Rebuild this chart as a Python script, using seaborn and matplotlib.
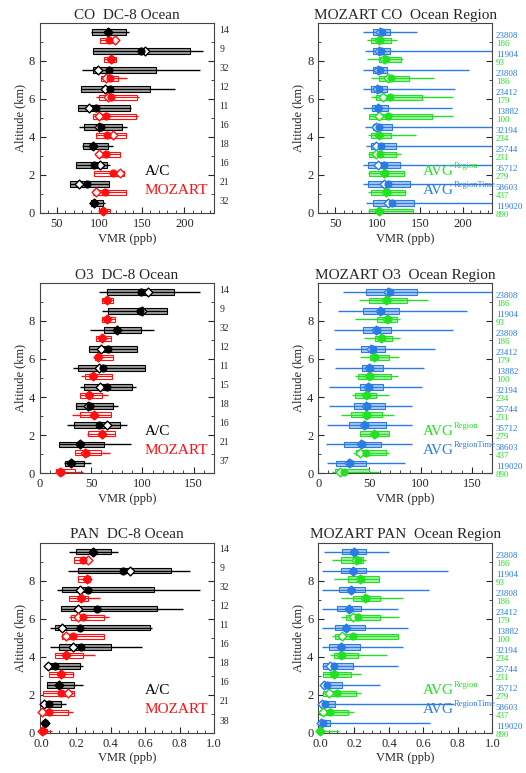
import numpy as np
import pandas as pd
import matplotlib
matplotlib.use('Agg')
import matplotlib.pyplot as plt
from matplotlib.ticker import MultipleLocator
import seaborn as sns

sns.set_style('ticks')
plt.rcParams['font.family'] = ['Liberation Serif', 'DejaVu Serif']

# altitude bins, top to bottom
bins = [9, 8, 7, 6, 5, 4, 3, 2, 1, 0]

# ---------- CO ----------
co_ac_lo = [90, 93, 80, 78, 75, 76, 80, 73, 65, 88]
co_ac_q1 = [91, 93, 93, 78, 75, 82, 81, 73, 65, 90]
co_ac_med = [110, 149, 111, 112, 96, 102, 93, 94, 85, 94]
co_ac_mean = [110, 154, 98, 107, 88, 100, 93, 101, 76, 94]
co_ac_q3 = [131, 207, 167, 160, 136, 127, 110, 109, 111, 104]
co_ac_hi = [135, 222, 218, 189, 137, 133, 116, 112, 111, 106]

co_mz_lo = [101, 105, 102, 96, 93, 96, 97, 94, 92, 100]
co_mz_q1 = [101, 105, 102, 99, 93, 96, 97, 94, 92, 100]
co_mz_med = [111, 114, 112, 114, 108, 109, 108, 116, 107, 104]
co_mz_mean = [118, 114, 108, 110, 100, 116, 100, 124, 96, 104]
co_mz_q3 = [120, 120, 122, 144, 143, 131, 124, 129, 131, 112]
co_mz_hi = [120, 120, 133, 147, 145, 131, 124, 129, 131, 112]

co_rt_lo = [83, 85, 83, 83, 83, 85, 86, 83, 83, 86]
co_rt_q1 = [94, 94, 94, 92, 93, 94, 92, 89, 89, 94]
co_rt_med = [105, 104, 103, 101, 100, 101, 104, 107, 112, 117]
co_rt_mean = [103, 102, 100, 99, 100, 98, 98, 100, 108, 112]
co_rt_q3 = [114, 114, 111, 111, 112, 117, 122, 126, 138, 143]
co_rt_hi = [146, 260, 207, 191, 188, 260, 260, 260, 260, 260]

co_rg_lo = [88, 88, 92, 92, 90, 89, 89, 89, 89, 89]
co_rg_q1 = [92, 101, 102, 98, 90, 92, 90, 90, 92, 90]
co_rg_med = [103, 110, 116, 114, 112, 101, 103, 109, 111, 101]
co_rg_mean = [101, 107, 112, 106, 102, 101, 98, 108, 110, 101]
co_rg_q3 = [116, 127, 137, 152, 164, 116, 121, 131, 132, 141]
co_rg_hi = [123, 130, 166, 189, 189, 145, 127, 132, 133, 141]

# ---------- O3 ----------
o3_ac_lo = [58, 61, 49, 48, 32, 39, 35, 26, 19, 23]
o3_ac_q1 = [65, 66, 63, 48, 37, 43, 35, 33, 19, 24]
o3_ac_med = [99, 98, 75, 66, 62, 65, 49, 58, 39, 30]
o3_ac_mean = [105, 100, 75, 60, 58, 59, 47, 65, 39, 30]
o3_ac_q3 = [131, 124, 99, 95, 103, 90, 71, 78, 63, 43]
o3_ac_hi = [156, 124, 111, 95, 103, 94, 76, 85, 89, 50]

o3_mz_lo = [61, 61, 55, 54, 40, 39, 31, 46, 34, 16]
o3_mz_q1 = [61, 61, 55, 54, 44, 39, 39, 47, 34, 16]
o3_mz_med = [65, 65, 61, 57, 52, 48, 53, 61, 45, 21]
o3_mz_mean = [65, 65, 61, 57, 52, 48, 53, 61, 44, 20]
o3_mz_q3 = [71, 73, 69, 71, 70, 61, 69, 73, 60, 34]
o3_mz_hi = [71, 73, 69, 71, 70, 66, 69, 73, 68, 42]

o3_rt_lo = [24, 19, 15, 16, 16, 11, 11, 9, 8, 9]
o3_rt_q1 = [47, 44, 44, 42, 43, 41, 35, 30, 25, 17]
o3_rt_med = [70, 61, 57, 53, 51, 50, 48, 46, 43, 31]
o3_rt_mean = [68, 60, 56, 52, 50, 49, 47, 45, 42, 30]
o3_rt_q3 = [96, 79, 71, 65, 63, 63, 65, 66, 61, 47]
o3_rt_hi = [180, 145, 132, 114, 103, 101, 92, 92, 92, 85]

o3_rg_lo = [40, 36, 45, 41, 36, 33, 22, 41, 34, 13]
o3_rg_q1 = [50, 57, 55, 51, 39, 36, 32, 41, 37, 16]
o3_rg_med = [67, 68, 62, 55, 51, 48, 48, 55, 47, 25]
o3_rg_mean = [66, 67, 61, 54, 50, 47, 47, 54, 41, 21]
o3_rg_q3 = [87, 77, 72, 69, 71, 56, 62, 69, 66, 50]
o3_rg_hi = [107, 80, 80, 79, 78, 69, 74, 69, 69, 59]

# ---------- PAN ----------
pan_ac_lo = [0.16, 0.15, 0.09, 0.11, 0.05, 0.05, 0.03, 0.03, 0.00, 0.00]
pan_ac_q1 = [0.20, 0.21, 0.12, 0.11, 0.08, 0.10, 0.03, 0.03, 0.01, 0.01]
pan_ac_med = [0.30, 0.47, 0.27, 0.32, 0.22, 0.23, 0.08, 0.10, 0.045, 0.02]
pan_ac_mean = [0.30, 0.51, 0.22, 0.21, 0.12, 0.18, 0.035, 0.10, 0.015, 0.02]
pan_ac_q3 = [0.40, 0.75, 0.65, 0.67, 0.63, 0.40, 0.22, 0.19, 0.11, 0.03]
pan_ac_hi = [0.44, 0.86, 0.92, 0.82, 0.64, 0.58, 0.24, 0.24, 0.14, 0.04]

pan_mz_lo = [0.19, 0.21, 0.16, 0.16, 0.11, 0.08, 0.04, 0.01, 0.0, 0.0]
pan_mz_q1 = [0.19, 0.21, 0.16, 0.17, 0.12, 0.08, 0.04, 0.01, 0.0, 0.0]
pan_mz_med = [0.24, 0.26, 0.23, 0.24, 0.18, 0.14, 0.11, 0.11, 0.04, 0.005]
pan_mz_mean = [0.27, 0.26, 0.23, 0.21, 0.14, 0.14, 0.11, 0.15, 0.0, 0.0]
pan_mz_q3 = [0.27, 0.28, 0.27, 0.36, 0.36, 0.24, 0.18, 0.19, 0.15, 0.03]
pan_mz_hi = [0.27, 0.28, 0.34, 0.39, 0.36, 0.31, 0.19, 0.19, 0.18, 0.06]

pan_rt_lo = [0.025, 0.01, 0.01, 0.01, 0.01, 0.01, 0.01, 0.005, 0.0, 0.0]
pan_rt_q1 = [0.13, 0.12, 0.11, 0.10, 0.09, 0.05, 0.02, 0.01, 0.0, 0.0]
pan_rt_med = [0.20, 0.19, 0.18, 0.17, 0.15, 0.12, 0.08, 0.04, 0.03, 0.02]
pan_rt_mean = [0.20, 0.19, 0.18, 0.17, 0.15, 0.12, 0.06, 0.025, 0.01, 0.005]
pan_rt_q3 = [0.27, 0.27, 0.26, 0.24, 0.26, 0.23, 0.19, 0.13, 0.09, 0.06]
pan_rt_hi = [0.40, 0.74, 0.63, 0.45, 0.51, 0.48, 0.45, 0.35, 0.78, 0.64]

pan_rg_lo = [0.07, 0.08, 0.12, 0.12, 0.07, 0.06, 0.02, 0.01, 0.0, 0.0]
pan_rg_q1 = [0.12, 0.16, 0.19, 0.15, 0.09, 0.08, 0.02, 0.02, 0.0, 0.0]
pan_rg_med = [0.22, 0.24, 0.27, 0.22, 0.19, 0.13, 0.08, 0.10, 0.06, 0.0]
pan_rg_mean = [0.21, 0.23, 0.26, 0.19, 0.13, 0.12, 0.08, 0.05, 0.02, 0.0]
pan_rg_q3 = [0.25, 0.34, 0.35, 0.35, 0.45, 0.22, 0.18, 0.21, 0.16, 0.02]
pan_rg_hi = [0.27, 0.34, 0.48, 0.46, 0.45, 0.39, 0.24, 0.24, 0.20, 0.11]

# sample counts (top to bottom)
co_n_ac = ['14', '9', '32', '12', '11', '16', '18', '16', '21', '32']
o3_n_ac = ['14', '9', '32', '12', '11', '15', '18', '16', '21', '37']
pan_n_ac = ['14', '9', '32', '12', '11', '16', '18', '16', '21', '38']
n_regtime = ['23808', '11904', '23808', '23412', '13882', '32194', '25744', '35712', '58603', '119020']
n_region = ['186', '93', '186', '179', '100', '234', '231', '279', '437', '890']

BLACK = 'black'
GRAY = '#9a9a9a'
RED = '#ff1010'
BLUE = '#2a7be4'
LBLUE = '#a8c8f0'
GREEN = '#22e022'
LGREEN = '#a8f0a8'


def draw_series(ax, off, lo, q1, med, mean, q3, hi, edge, face):
    y = np.array(bins) + off
    h = 0.14
    ax.hlines(y, lo, hi, color=edge, lw=1.0, zorder=2)
    q1 = np.array(q1)
    q3 = np.array(q3)
    ax.barh(y + h / 2, q3 - q1, height=h, left=q1, color=face,
            edgecolor=edge, linewidth=0.8, zorder=3)
    ax.barh(y - h / 2, q3 - q1, height=h, left=q1, color=face,
            edgecolor=edge, linewidth=0.8, zorder=3)
    df = pd.DataFrame({'mean': mean, 'med': med, 'y': y})
    sns.scatterplot(data=df, x='mean', y='y', marker='D', s=20, color='white',
                    edgecolor=edge, linewidth=1.0, ax=ax, zorder=4, legend=False,
                    clip_on=False)
    sns.scatterplot(data=df, x='med', y='y', marker='o', s=28, color=edge,
                    edgecolor=edge, linewidth=0.5, ax=ax, zorder=5, legend=False,
                    clip_on=False)


def style_axis(ax, title, xlim, xmin, xticks):
    ax.set_xlim(xlim)
    ax.set_ylim(0, 10)
    ax.set_title(title, fontsize=11, pad=3)
    ax.set_xlabel('VMR (ppb)', fontsize=9, labelpad=2)
    ax.set_ylabel('Altitude (km)', fontsize=9, labelpad=2)
    ax.set_xticks(xticks)
    ax.xaxis.set_minor_locator(MultipleLocator(xmin))
    ax.set_yticks([0, 2, 4, 6, 8])
    ax.yaxis.set_minor_locator(MultipleLocator(1))
    ax.tick_params(which='both', direction='in', right=True, labelsize=9)
    ax.tick_params(which='major', length=4)
    ax.tick_params(which='minor', length=2)
    for sp in ax.spines.values():
        sp.set_linewidth(0.8)
        sp.set_color('#444444')


def avg_label(ax, y, sup, color):
    t = ax.text(0.60, y, 'AVG', transform=ax.transAxes, fontsize=11,
                color=color, va='center')
    ax.annotate(sup, xy=(1, 0.62), xycoords=t, fontsize=6, color=color,
                va='bottom', ha='left')


fig = plt.figure(figsize=(5.26, 7.73), dpi=100)
lx, rx, w, h = 0.076, 0.605, 0.331, 0.246
rows_y = [0.7245, 0.388, 0.052]

panels = [
    ('CO', (30, 235), [50, 100, 150, 200], 10,
     (co_ac_lo, co_ac_q1, co_ac_med, co_ac_mean, co_ac_q3, co_ac_hi),
     (co_mz_lo, co_mz_q1, co_mz_med, co_mz_mean, co_mz_q3, co_mz_hi),
     (co_rt_lo, co_rt_q1, co_rt_med, co_rt_mean, co_rt_q3, co_rt_hi),
     (co_rg_lo, co_rg_q1, co_rg_med, co_rg_mean, co_rg_q3, co_rg_hi), co_n_ac),
    ('O3', (0, 170), [0, 50, 100, 150], 10,
     (o3_ac_lo, o3_ac_q1, o3_ac_med, o3_ac_mean, o3_ac_q3, o3_ac_hi),
     (o3_mz_lo, o3_mz_q1, o3_mz_med, o3_mz_mean, o3_mz_q3, o3_mz_hi),
     (o3_rt_lo, o3_rt_q1, o3_rt_med, o3_rt_mean, o3_rt_q3, o3_rt_hi),
     (o3_rg_lo, o3_rg_q1, o3_rg_med, o3_rg_mean, o3_rg_q3, o3_rg_hi), o3_n_ac),
    ('PAN', (-0.01, 1.0), [0.0, 0.2, 0.4, 0.6, 0.8, 1.0], 0.05,
     (pan_ac_lo, pan_ac_q1, pan_ac_med, pan_ac_mean, pan_ac_q3, pan_ac_hi),
     (pan_mz_lo, pan_mz_q1, pan_mz_med, pan_mz_mean, pan_mz_q3, pan_mz_hi),
     (pan_rt_lo, pan_rt_q1, pan_rt_med, pan_rt_mean, pan_rt_q3, pan_rt_hi),
     (pan_rg_lo, pan_rg_q1, pan_rg_med, pan_rg_mean, pan_rg_q3, pan_rg_hi), pan_n_ac),
]

for i, (spec, xlim, xticks, xmin, ac, mz, rt, rg, n_ac) in enumerate(panels):
    y0 = rows_y[i]

    # left: aircraft vs MOZART
    ax = fig.add_axes([lx, y0, w, h])
    draw_series(ax, 0.52, *ac, BLACK, GRAY)
    draw_series(ax, 0.08, *mz, RED, 'white')
    style_axis(ax, f'{spec}  DC-8 Ocean', xlim, xmin, xticks)
    if spec == 'PAN':
        ax.set_xticklabels([f'{t:.1f}' for t in xticks])
    tr = ax.get_yaxis_transform()
    for k, lab in zip(bins, n_ac):
        ax.text(1.03, k + 0.62, lab, transform=tr, fontsize=7, va='center', ha='left')
    ax.text(0.60, 0.22, 'A/C', transform=ax.transAxes, fontsize=11, color=BLACK, va='center')
    ax.text(0.60, 0.12, 'MOZART', transform=ax.transAxes, fontsize=11, color=RED, va='center')

    # right: MOZART region sampling
    ax = fig.add_axes([rx, y0, w, h])
    draw_series(ax, 0.52, *rt, BLUE, LBLUE)
    draw_series(ax, 0.08, *rg, GREEN, LGREEN)
    style_axis(ax, f'MOZART {spec}  Ocean Region', xlim, xmin, xticks)
    if spec == 'PAN':
        ax.set_xticklabels([f'{t:.1f}' for t in xticks])
    tr = ax.get_yaxis_transform()
    for k, a, b in zip(bins, n_regtime, n_region):
        ax.text(1.02, k + 0.3, a, transform=tr, fontsize=6.5, va='center', ha='left', color=BLUE)
        ax.text(1.02, k - 0.1, b, transform=tr, fontsize=6.5, va='center', ha='left', color=GREEN)
    avg_label(ax, 0.22, 'Region', GREEN)
    avg_label(ax, 0.12, 'RegionTime', BLUE)

fig.savefig('out.png', dpi=100)
